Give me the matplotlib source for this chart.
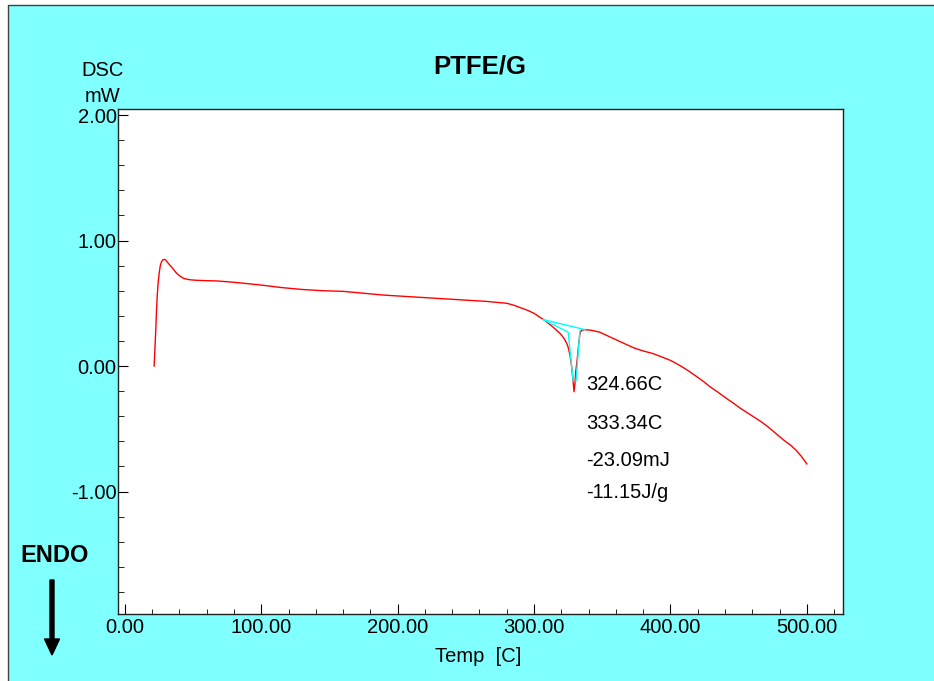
import matplotlib
matplotlib.use("Agg")
import matplotlib.pyplot as plt
from matplotlib.patches import Rectangle, FancyArrow
from matplotlib.ticker import MultipleLocator, FormatStrFormatter

plt.rcParams['font.family'] = ['Liberation Sans', 'DejaVu Sans']

# DSC trace (temperature in C, heat flow in mW)
temp = [21.5, 22.0, 22.7, 23.2, 23.7, 24.4, 25.2, 26.0, 26.9, 27.8, 28.8, 29.9, 31.0, 32.5,
        34.2, 36.0, 37.9, 40.0, 42.8, 46.0, 49.0, 52.6, 60.0, 67.2, 77.0, 86.8,
        100, 115, 130, 145, 160, 175, 190, 205, 220, 235, 250, 265, 280, 285, 290, 295,
        300, 304, 307, 310, 314, 317, 319, 321, 322.5, 324, 325, 326.3, 327.5, 328.5,
        329.3, 330.0, 330.5, 331.2, 331.8, 332.5, 333.0, 333.5, 334.0, 335.0, 337.0,
        342, 348, 354, 360, 366, 373, 380, 387, 393, 400, 406, 412, 420, 425, 429,
        435, 440, 446, 451, 456, 461, 466, 471, 477, 483, 488, 492, 496, 500]
dsc = [0.0, 0.12, 0.29, 0.43, 0.55, 0.66, 0.74, 0.80, 0.83, 0.845, 0.85, 0.845, 0.83, 0.81,
       0.79, 0.765, 0.74, 0.72, 0.70, 0.69, 0.686, 0.683, 0.68, 0.678, 0.67, 0.66,
       0.645, 0.625, 0.61, 0.60, 0.595, 0.58, 0.565, 0.555, 0.545, 0.535, 0.525, 0.515, 0.50, 0.485, 0.465, 0.445,
       0.42, 0.39, 0.37, 0.345, 0.31, 0.28, 0.26, 0.235, 0.21, 0.18, 0.15, 0.09, 0.0, -0.10,
       -0.205, -0.14, -0.05, 0.01, 0.07, 0.15, 0.20, 0.245, 0.27, 0.285, 0.29,
       0.285, 0.27, 0.24, 0.21, 0.18, 0.145, 0.12, 0.10, 0.075, 0.045, 0.01, -0.03, -0.09, -0.13, -0.165,
       -0.21, -0.25, -0.295, -0.335, -0.37, -0.405, -0.44, -0.48, -0.535, -0.59, -0.63, -0.67, -0.72, -0.78]

# peak analysis construction lines (cyan)
base_t = [306.8, 337.4]
base_y = [0.37, 0.29]
left_t = [306.8, 325.0, 328.7]
left_y = [0.37, 0.27, -0.12]
right_t = [333.6, 330.8]
right_y = [0.28, -0.12]

results = ["324.66C", "333.34C", "-23.09mJ", "-11.15J/g"]
results_py = [384, 423, 460, 493]

W, H = 934, 681
fig = plt.figure(figsize=(W / 100, H / 100), dpi=100, facecolor='white')
bg = Rectangle((8 / W, -0.05), 1.1, 1.05 - 5 / H, transform=fig.transFigure,
               facecolor='#80FFFF', edgecolor='#404040', lw=1.0, zorder=-10)
fig.patches.append(bg)

ax = fig.add_axes([118 / W, 1 - 614 / H, (843 - 118) / W, (614 - 109) / H])
ax.set_zorder(5)
ax.set_facecolor('white')
ax.plot(temp, dsc, color='red', lw=1.0)
ax.plot(base_t, base_y, color='cyan', lw=1.0)
ax.plot(left_t, left_y, color='cyan', lw=1.0)
ax.plot(right_t, right_y, color='cyan', lw=1.0)

ax.set_xlim(-5, 526.5)
ax.set_ylim(-1.976, 2.048)
ax.xaxis.set_major_locator(MultipleLocator(100))
ax.xaxis.set_minor_locator(MultipleLocator(20))
ax.yaxis.set_major_locator(MultipleLocator(1))
ax.yaxis.set_minor_locator(MultipleLocator(0.2))
ax.xaxis.set_major_formatter(FormatStrFormatter('%.2f'))
ax.yaxis.set_major_formatter(FormatStrFormatter('%.2f'))
ax.tick_params(which='both', direction='in', top=False, right=False, labelsize=14.5, colors='black')
ax.tick_params(axis='x', which='major', length=7, pad=3)
ax.tick_params(axis='x', which='minor', length=3.5)
ax.tick_params(axis='y', which='major', length=7, pad=1)
ax.tick_params(axis='y', which='minor', length=4)
for s in ax.spines.values():
    s.set_linewidth(1.0)
    s.set_color('#202020')

def ftext(x, y, s, **kw):
    fig.text(x / W, 1 - y / H, s, zorder=10, **kw)

ftext(480, 66, "PTFE/G", fontsize=18.5, fontweight='bold', ha='center', va='center')
ftext(103, 71, "DSC", fontsize=14.5, ha='center', va='center')
ftext(103, 96, "mW", fontsize=14.5, ha='center', va='center')
ftext(55, 556, "ENDO", fontsize=17, fontweight='bold', ha='center', va='center')
ftext(435, 656, "Temp  [C]", fontsize=14.5, ha='left', va='center')
for s, py in zip(results, results_py):
    ftext(586, py, s, fontsize=14.5, ha='left', va='center')

arrow = FancyArrow(52 / W, 1 - 580 / H, 0, -(75 / H), width=4 / W,
                   head_width=15 / W, head_length=16 / H, length_includes_head=True,
                   transform=fig.transFigure, color='black', zorder=10)
fig.patches.append(arrow)

fig.savefig("out.png", dpi=100, facecolor=fig.get_facecolor())
